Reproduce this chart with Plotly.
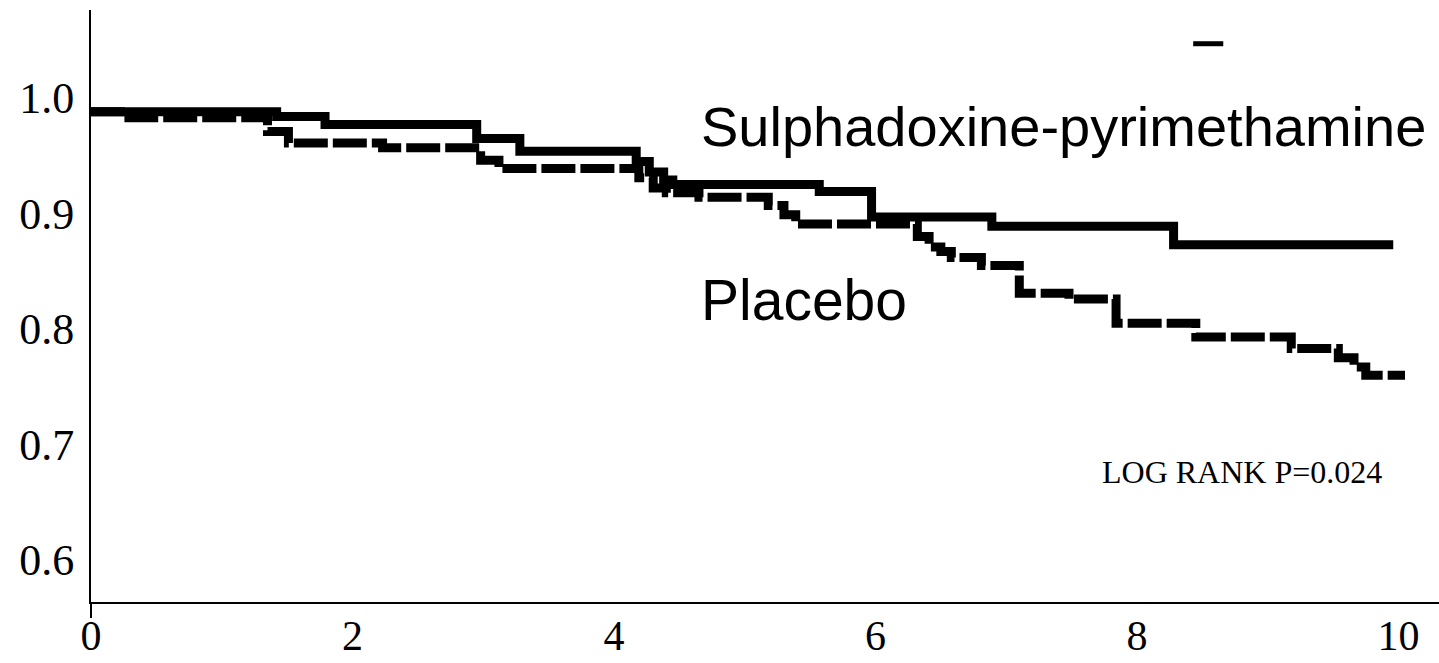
import plotly.graph_objects as go

# Kaplan-Meier style step curves (time in months, proportion event-free)
sp_time = [0, 1.42, 1.79, 2.95, 3.28, 4.17, 4.27, 4.38, 4.45, 5.57, 5.97, 6.89, 8.28, 9.96]
sp_surv = [0.988, 0.984, 0.977, 0.965, 0.954, 0.945, 0.936, 0.929, 0.925, 0.919, 0.897, 0.889, 0.873, 0.873]

pl_time = [0, 0.29, 1.35, 1.51, 2.23, 2.98, 3.12, 4.19, 4.30, 4.40, 4.65, 5.18, 5.30, 5.39,
           6.32, 6.41, 6.50, 6.58, 6.81, 7.10, 7.48, 7.84, 8.45, 9.18, 9.54, 9.66, 9.75, 10.05]
pl_surv = [0.988, 0.983, 0.971, 0.961, 0.957, 0.946, 0.939, 0.931, 0.922, 0.918, 0.914, 0.907, 0.899, 0.891,
           0.880, 0.871, 0.867, 0.862, 0.855, 0.831, 0.826, 0.805, 0.793, 0.783, 0.775, 0.767, 0.760, 0.760]

x_ticks = [0, 2, 4, 6, 8, 10]
x_labels = ["0", "2", "4", "6", "8", "10"]
y_ticks = [0.6, 0.7, 0.8, 0.9, 1.0]
y_labels = ["0.6", "0.7", "0.8", "0.9", "1.0"]

fig = go.Figure()
fig.add_trace(go.Scatter(x=sp_time, y=sp_surv, mode="lines", line_shape="hv",
                         line=dict(color="black", width=9), name="Sulphadoxine-pyrimethamine",
                         hoverinfo="skip"))
fig.add_trace(go.Scatter(x=pl_time, y=pl_surv, mode="lines", line_shape="hv",
                         line=dict(color="black", width=9, dash="34px,5px"), name="Placebo",
                         hoverinfo="skip"))

serif = "Liberation Serif, Times New Roman, serif"
sans = "Liberation Sans, Arial, Helvetica, sans-serif"

fig.add_annotation(x=4.65, y=0.975, xref="x", yref="y", text="Sulphadoxine-pyrimethamine",
                   showarrow=False, xanchor="left", yanchor="middle",
                   font=dict(family=sans, size=56, color="black"))
fig.add_annotation(x=4.65, y=0.825, xref="x", yref="y", text="Placebo",
                   showarrow=False, xanchor="left", yanchor="middle",
                   font=dict(family=sans, size=57, color="black"))
fig.add_annotation(x=7.72, y=0.676, xref="x", yref="y", text="LOG RANK P=0.024",
                   showarrow=False, xanchor="left", yanchor="middle",
                   font=dict(family=serif, size=32, color="black"))

# small artefact mark near top and y-axis extension below the x-axis
fig.add_shape(type="line", xref="x", yref="y", x0=8.43, x1=8.66, y0=1.047, y1=1.047,
              line=dict(color="black", width=5))
fig.add_shape(type="line", xref="paper", yref="paper", x0=0, x1=0, y0=0, y1=-0.027,
              line=dict(color="black", width=2))

fig.update_layout(
    width=1439, height=663,
    margin=dict(l=91, r=0, t=10, b=61, autoexpand=False),
    paper_bgcolor="white", plot_bgcolor="white",
    showlegend=False, hovermode=False,
)
fig.update_xaxes(range=[0, 10.31], tickvals=x_ticks, ticktext=x_labels, automargin=False,
                 showline=True, linecolor="black", linewidth=2, showgrid=False, zeroline=False,
                 ticks="", ticklabelstandoff=-4,
                 tickfont=dict(family=serif, size=42, color="black"))
fig.update_yaxes(range=[0.5636, 1.0762], tickvals=y_ticks, ticktext=y_labels, automargin=False,
                 showline=True, linecolor="black", linewidth=2, showgrid=False, zeroline=False,
                 ticks="", ticklabelstandoff=6,
                 tickfont=dict(family=serif, size=44, color="black"))

fig.write_html("out.html")
